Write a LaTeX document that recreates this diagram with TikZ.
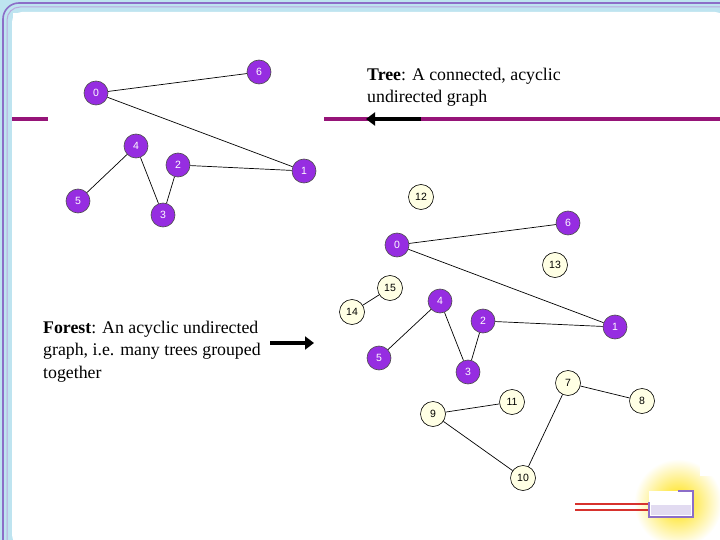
\documentclass[tikz,border=0pt]{standalone}
\usepackage{fontspec}
\setmainfont{Liberation Serif}
\newfontfamily\nodefont{Liberation Sans}
\usetikzlibrary{arrows.meta}
\definecolor{vert}{RGB}{150,45,225}
\definecolor{cream}{RGB}{255,255,228}
\definecolor{magline}{RGB}{150,20,120}
\definecolor{framebl}{RGB}{190,228,240}
\definecolor{framepu}{RGB}{140,110,200}
\definecolor{redline}{RGB}{215,50,45}
\tikzset{
  vnode/.style={circle,draw=black!70,line width=0.6pt,fill=vert,minimum size=24pt,inner sep=0pt,font=\nodefont\fontsize{10.5}{10.5}\selectfont,text=white},
  fnode/.style={circle,draw=black,line width=0.6pt,fill=cream,minimum size=25pt,inner sep=0pt,font=\nodefont\fontsize{10.5}{10.5}\selectfont,text=black},
  edge/.style={draw=black,line width=0.7pt},
  desc/.style={align=left,inner sep=0pt,anchor=north west,font=\fontsize{17.8}{22.5}\selectfont},
  bigarrow/.style={draw=black,line width=4.5pt,-{Triangle[length=9pt,width=13pt]}},
  sepline/.style={draw=magline,line width=4pt}
}
\begin{document}
\begin{tikzpicture}[x=1pt,y=-1pt]
\useasboundingbox (0,0) rectangle (720,540);
% frame
\fill[framebl] (0,0) rectangle (720,13);
\fill[framebl] (0,0) rectangle (13,540);
\fill[white,rounded corners=10pt] (12,545) -- (12,12) -- (725,12) -- (725,545) -- cycle;
\draw[framepu,line width=1.6pt,rounded corners=16pt] (3,540) -- (3,3) -- (720,3);
\draw[framepu!60,line width=1pt,rounded corners=13pt] (7,540) -- (7,7) -- (720,7);
% separator lines
\draw[sepline] (12,119) -- (48,119);
\draw[sepline] (324,119) -- (720,119);
% bottom-right decoration
\shade[inner color=yellow!75!orange,outer color=white] (678,503) circle[radius=44];
\fill[white] (700,455) rectangle (720,476);
\draw[redline,line width=1.8pt] (575,504) -- (650,504);
\draw[redline,line width=1.8pt] (575,510) -- (650,510);
\fill[white] (649,491) rectangle (693,517);
\fill[framepu!25] (651,505) rectangle (691,515);
\draw[framepu,line width=2.2pt] (678,491) -- (693,491) -- (693,517) -- (649,517) -- (649,502);
% descriptions
\node[desc] (treetxt) at (367,67.5) {\textbf{Tree}: A connected, acyclic\\undirected graph};
\node[desc] (foresttxt) at (43,320.5) {\textbf{Forest}: An acyclic undirected\\graph, i.e. many trees grouped\\together};
\coordinate (ta1) at (421,119);
\coordinate (ta2) at (366,119);
\draw[bigarrow,line width=4pt] (ta1) -- (ta2);
\coordinate (fa1) at (270,343);
\coordinate (fa2) at (314,343);
\draw[bigarrow] (fa1) -- (fa2);
% top tree
\node[vnode] (t6) at (259,72) {6};
\node[vnode] (t0) at (96,93) {0};
\node[vnode] (t4) at (136,146) {4};
\node[vnode] (t2) at (178,165) {2};
\node[vnode] (t1) at (304,171) {1};
\node[vnode] (t5) at (78,201) {5};
\node[vnode] (t3) at (163,215) {3};
\draw[edge] (t0) -- (t6);
\draw[edge] (t0) -- (t1);
\draw[edge] (t2) -- (t1);
\draw[edge] (t4) -- (t5);
\draw[edge] (t4) -- (t3);
\draw[edge] (t2) -- (t3);
% forest
\node[fnode] (f12) at (421,197) {12};
\node[vnode] (f6) at (568,223) {6};
\node[vnode] (f0) at (397,245) {0};
\node[fnode] (f13) at (555,265) {13};
\node[fnode] (f15) at (390,288) {15};
\node[fnode] (f14) at (352,312) {14};
\node[vnode] (f4) at (440,301) {4};
\node[vnode] (f2) at (483,321) {2};
\node[vnode] (f1) at (615,327) {1};
\node[vnode] (f5) at (379,358) {5};
\node[vnode] (f3) at (468,372) {3};
\node[fnode] (f7) at (568,383) {7};
\node[fnode] (f11) at (512,402) {11};
\node[fnode] (f9) at (433,414) {9};
\node[fnode] (f8) at (642,401) {8};
\node[fnode] (f10) at (523,478) {10};
\draw[edge] (f0) -- (f6);
\draw[edge] (f0) -- (f1);
\draw[edge] (f2) -- (f1);
\draw[edge] (f4) -- (f5);
\draw[edge] (f4) -- (f3);
\draw[edge] (f2) -- (f3);
\draw[edge] (f15) -- (f14);
\draw[edge] (f9) -- (f11);
\draw[edge] (f9) -- (f10);
\draw[edge] (f10) -- (f7);
\draw[edge] (f7) -- (f8);
\end{tikzpicture}
\end{document}
